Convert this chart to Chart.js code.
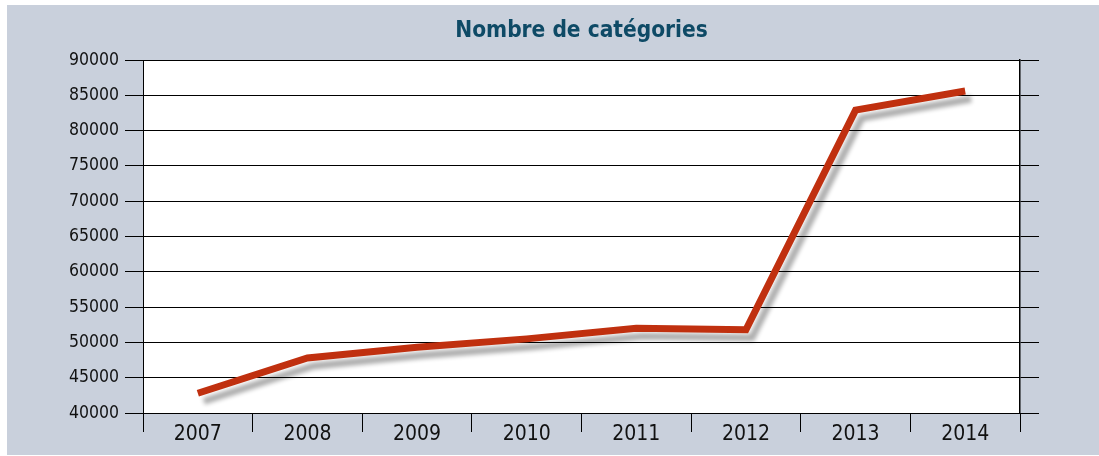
<!DOCTYPE html>
<html>
<head>
<meta charset="utf-8">
<script src="https://cdn.jsdelivr.net/npm/chart.js@4"></script>
<style>
  html, body { margin: 0; padding: 0; background: #ffffff; }
  #wrap { width: 1099px; height: 456px; position: relative; }
</style>
</head>
<body>
<div id="wrap"><canvas id="chart"></canvas></div>
<script>
var years = ["2007", "2008", "2009", "2010", "2011", "2012", "2013", "2014"];
var categories = [42800, 47800, 49300, 50500, 52000, 51800, 82900, 85600];
var yTicks = [40000, 45000, 50000, 55000, 60000, 65000, 70000, 75000, 80000, 85000, 90000];

var narrow = "'DejaVu Sans Condensed', 'Liberation Sans Narrow', sans-serif";

// panel background + white plot area
var panelBg = {
    id: 'panelBg',
    beforeDraw: function(chart){
        var c = chart.ctx, a = chart.chartArea;
        c.save();
        c.fillStyle = '#ffffff';
        c.fillRect(0, 0, chart.width, chart.height);
        c.fillStyle = '#c9d0dc';
        c.fillRect(7, 5, chart.width - 7, chart.height - 6);
        c.fillStyle = '#ffffff';
        c.fillRect(a.left, a.top, a.right - a.left, a.bottom - a.top);
        c.restore();
    }
};

// grey drop shadow under the line
var lineShadow = {
    id: 'lineShadow',
    beforeDatasetDraw: function(chart){
        var c = chart.ctx;
        c.save();
        c.shadowColor = 'rgba(0,0,0,0.32)';
        c.shadowBlur = 4;
        c.shadowOffsetX = 6;
        c.shadowOffsetY = 8;
    },
    afterDatasetDraw: function(chart){
        chart.ctx.restore();
    }
};

var ctx = document.getElementById('chart');
var myChart = new Chart(ctx, {
    type: 'line',
    data: {
        labels: years,
        datasets: [{
            label: 'Nombre de catégories',
            data: categories,
            borderColor: '#c0300f',
            borderWidth: 7,
            borderCapStyle: 'butt',
            borderJoinStyle: 'miter',
            pointRadius: 0,
            tension: 0,
            fill: false
        }]
    },
    options: {
        responsive: true,
        maintainAspectRatio: false,
        animation: false,
        layout: { padding: { left: 0, right: 0, top: 0, bottom: 0 } },
        plugins: {
            legend: { display: false },
            tooltip: { enabled: false },
            title: {
                display: true,
                text: 'Nombre de catégories',
                color: '#0e4a66',
                fullSize: false,
                font: { family: narrow, size: 22.5, weight: 'bold', lineHeight: 1.2 },
                padding: { top: 18, bottom: 15 }
            }
        },
        scales: {
            x: {
                offset: true,
                grid: {
                    offset: true,
                    drawOnChartArea: false,
                    color: '#000000',
                    lineWidth: 1,
                    tickLength: 19
                },
                border: { color: '#000000', width: 1 },
                ticks: {
                    color: '#111111',
                    font: { family: narrow, size: 21 },
                    padding: -10,
                    maxRotation: 0
                },
                afterFit: function(scale){ scale.height = 43; }
            },
            y: {
                min: yTicks[0],
                max: yTicks[yTicks.length - 1],
                afterBuildTicks: function(scale){
                    scale.ticks = yTicks.map(function(v){ return { value: v }; });
                },
                grid: {
                    color: '#000000',
                    lineWidth: 1,
                    tickLength: 18
                },
                border: { color: '#000000', width: 1 },
                ticks: {
                    color: '#111111',
                    font: { family: narrow, size: 17.5 },
                    padding: 6,
                    callback: function(v){ return String(v); }
                },
                afterFit: function(scale){ scale.width = 143; }
            },
            y2: {
                position: 'right',
                min: yTicks[0],
                max: yTicks[yTicks.length - 1],
                afterBuildTicks: function(scale){
                    scale.ticks = yTicks.map(function(v){ return { value: v }; });
                },
                grid: {
                    drawOnChartArea: false,
                    color: '#000000',
                    lineWidth: 1,
                    tickLength: 19
                },
                border: { color: '#000000', width: 1.5 },
                ticks: { display: false },
                afterFit: function(scale){ scale.width = 79; }
            }
        }
    },
    plugins: [panelBg, lineShadow]
});
</script>
</body>
</html>
